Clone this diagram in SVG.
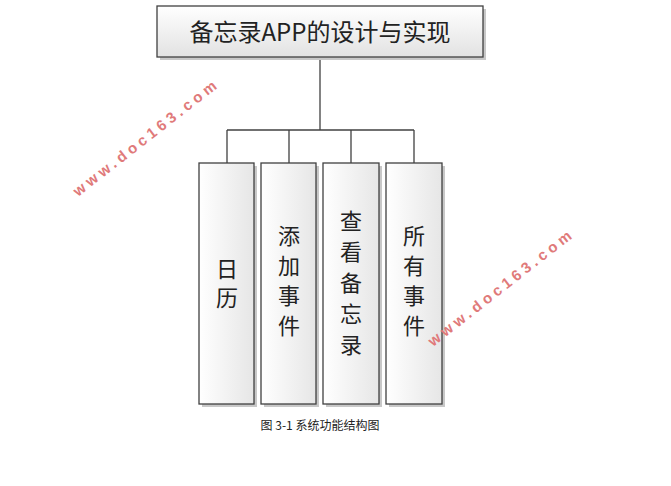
<svg xmlns="http://www.w3.org/2000/svg" width="671" height="486" viewBox="0 0 671 486">
<defs>
<linearGradient id="g" x1="0" y1="0" x2="0" y2="1"><stop offset="0" stop-color="#ffffff"/><stop offset="1" stop-color="#e2e2e2"/></linearGradient>
<linearGradient id="gv" x1="0" y1="0" x2="1" y2="0"><stop offset="0" stop-color="#ffffff"/><stop offset="1" stop-color="#e6e6e6"/></linearGradient>
<style>
.box{stroke:#404040;stroke-width:1.3}
.sh{fill:#c8c8c8}
.t{font-family:"Noto Sans CJK SC",sans-serif;fill:#222}
.v{font-size:22px}
.wm{font-family:"Liberation Sans",sans-serif;font-weight:bold;font-size:15px;fill:#e07a7a;letter-spacing:4px}
line{stroke:#404040;stroke-width:1.3}
</style>
</defs>
<rect width="671" height="486" fill="#fff"/>
<g id="connectors">
<line x1="320" y1="57" x2="320" y2="130"/>
<line x1="227" y1="130" x2="414" y2="130"/>
<line x1="227" y1="130" x2="227" y2="163"/>
<line x1="289" y1="130" x2="289" y2="163"/>
<line x1="351" y1="130" x2="351" y2="163"/>
<line x1="414" y1="130" x2="414" y2="163"/>
</g>
<g id="root">
<rect class="sh" x="160" y="9" width="326" height="51"/>
<rect class="box" x="157" y="6" width="326" height="51" fill="url(#g)"/>
<text class="t" x="320" y="41" font-size="24" text-anchor="middle">备忘录APP的设计与实现</text>
</g>
<g id="n1">
<rect class="sh" x="202" y="166" width="55" height="241"/>
<rect class="box" x="199" y="163" width="55" height="241" fill="url(#gv)"/>
<text class="t v" text-anchor="middle" x="227" y="277">日</text>
<text class="t v" text-anchor="middle" x="227" y="306">历</text>
</g>
<g id="n2">
<rect class="sh" x="264" y="166" width="55" height="241"/>
<rect class="box" x="261" y="163" width="55" height="241" fill="url(#gv)"/>
<text class="t v" text-anchor="middle" x="289" y="244">添</text>
<text class="t v" text-anchor="middle" x="289" y="274">加</text>
<text class="t v" text-anchor="middle" x="289" y="304">事</text>
<text class="t v" text-anchor="middle" x="289" y="334">件</text>
</g>
<g id="n3">
<rect class="sh" x="326" y="166" width="56" height="241"/>
<rect class="box" x="323" y="163" width="56" height="241" fill="url(#gv)"/>
<text class="t v" text-anchor="middle" x="351" y="229">查</text>
<text class="t v" text-anchor="middle" x="351" y="260">看</text>
<text class="t v" text-anchor="middle" x="351" y="291">备</text>
<text class="t v" text-anchor="middle" x="351" y="322">忘</text>
<text class="t v" text-anchor="middle" x="351" y="353">录</text>
</g>
<g id="n4">
<rect class="sh" x="389" y="166" width="56" height="241"/>
<rect class="box" x="386" y="163" width="56" height="241" fill="url(#gv)"/>
<text class="t v" text-anchor="middle" x="414" y="244">所</text>
<text class="t v" text-anchor="middle" x="414" y="274">有</text>
<text class="t v" text-anchor="middle" x="414" y="304">事</text>
<text class="t v" text-anchor="middle" x="414" y="334">件</text>
</g>
<text class="t" x="320" y="430" font-size="12" text-anchor="middle">图 3-1 系统功能结构图</text>
<text class="wm" transform="translate(78,197) rotate(-38)">www.doc163.com</text>
<text class="wm" transform="translate(433,347) rotate(-38)">www.doc163.com</text>
</svg>
